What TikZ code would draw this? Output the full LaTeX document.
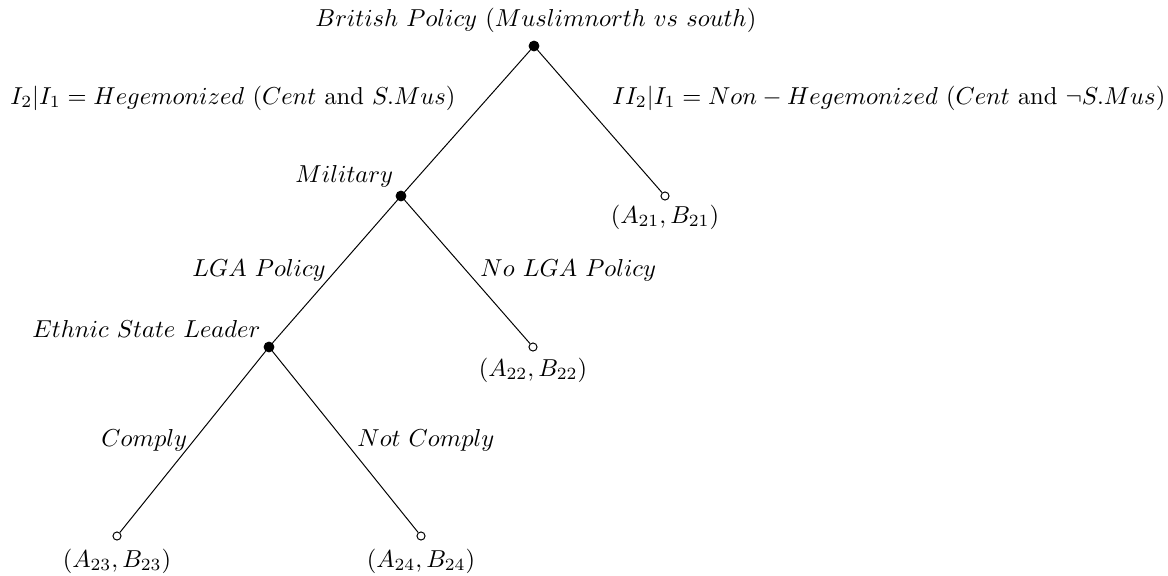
\documentclass[tikz,border=0pt]{standalone}
\begin{document}
\begin{tikzpicture}[x=0.4082pt,y=-0.4082pt,
  solidnode/.style={circle,fill=black,draw=black,inner sep=0pt,minimum size=4pt},
  hollownode/.style={circle,fill=white,draw=black,inner sep=0pt,minimum size=3.3pt,line width=0.4pt},
  lbl/.style={inner sep=0pt,anchor=base west},
  payoff/.style={inner sep=0pt,anchor=base},
  branch/.style={line width=0.4pt}]
\useasboundingbox (0,0) rectangle (1168,575);
% decision and terminal nodes
\node[solidnode] (r) at (534,46) {};
\node[solidnode] (m) at (401,196) {};
\node[hollownode] (t21) at (665,196) {};
\node[solidnode] (e) at (269,347) {};
\node[hollownode] (t22) at (533,347) {};
\node[hollownode] (t23) at (117,536) {};
\node[hollownode] (t24) at (421,536) {};
% branches
\draw[branch] (r) -- (m);
\draw[branch] (r) -- (t21);
\draw[branch] (m) -- (e);
\draw[branch] (m) -- (t22);
\draw[branch] (e) -- (t23);
\draw[branch] (e) -- (t24);
% node labels
\node[lbl] (lr) at (315,27) {$British\ Policy\ (Muslimnorth\ vs\ south)$};
\node[lbl] (lm) at (295,182) {$Military$};
\node[lbl] (le) at (32,337) {$Ethnic\ State\ Leader$};
% branch labels
\node[lbl] (b1) at (10,104) {$I_2|I_1=Hegemonized\ (Cent\ \mathrm{and}\ S.Mus)$};
\node[lbl] (b2) at (612,104) {$II_2|I_1=Non-Hegemonized\ (Cent\ \mathrm{and}\ \neg S.Mus)$};
\node[lbl] (b3) at (192,276) {$LGA\ Policy$};
\node[lbl] (b4) at (480,276) {$No\ LGA\ Policy$};
\node[lbl] (b5) at (101,446) {$Comply$};
\node[lbl] (b6) at (357,446) {$Not\ Comply$};
% payoffs
\node[payoff] (p21) at (665,223) {$(A_{21},B_{21})$};
\node[payoff] (p22) at (533,376) {$(A_{22},B_{22})$};
\node[payoff] (p23) at (117,567) {$(A_{23},B_{23})$};
\node[payoff] (p24) at (421,567) {$(A_{24},B_{24})$};
\end{tikzpicture}
\end{document}
